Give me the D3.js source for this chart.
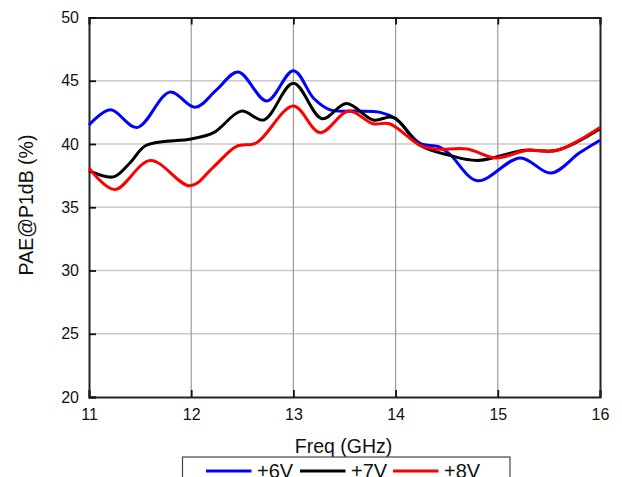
<!DOCTYPE html>
<html>
<head>
<meta charset="utf-8">
<script src="https://cdn.jsdelivr.net/npm/d3@7"></script>
<style>
  html, body { margin: 0; padding: 0; background: #fff; }
  svg { display: block; font-family: "Liberation Sans", Arial, sans-serif; }
</style>
</head>
<body>
<svg id="chart" width="622" height="477"></svg>
<script>
// PAE at P1dB versus frequency for three drain voltages
const freqTicks = [11, 12, 13, 14, 15, 16];
const paeTicks = [20, 25, 30, 35, 40, 45, 50];

const freq6V = [11.0, 11.21, 11.47, 11.79, 12.04, 12.25, 12.46, 12.74, 13.0, 13.2, 13.36, 13.6, 13.85, 14.0, 14.24, 14.42, 14.53, 14.8, 15.22, 15.52, 15.8, 16.0];
const pae6V  = [41.5, 42.7, 41.3, 44.1, 42.9, 44.3, 45.7, 43.4, 45.8, 43.6, 42.7, 42.6, 42.5, 42.0, 40.05, 39.8, 39.2, 37.1, 38.9, 37.7, 39.3, 40.3];

const freq7V = [11.0, 11.24, 11.4, 11.56, 12.0, 12.22, 12.49, 12.71, 13.0, 13.28, 13.52, 13.78, 13.98, 14.24, 14.53, 14.8, 15.26, 15.58, 16.0];
const pae7V  = [37.9, 37.4, 38.5, 39.9, 40.4, 40.9, 42.6, 41.9, 44.8, 42.0, 43.2, 41.9, 42.1, 39.9, 39.1, 38.7, 39.5, 39.5, 41.2];

const freq8V = [11.0, 11.25, 11.6, 11.99, 12.22, 12.44, 12.64, 13.0, 13.26, 13.54, 13.78, 13.94, 14.24, 14.4, 14.7, 14.98, 15.29, 15.58, 16.0];
const pae8V  = [38.1, 36.4, 38.7, 36.7, 38.2, 39.8, 40.1, 43.0, 40.9, 42.6, 41.6, 41.6, 39.9, 39.6, 39.6, 38.9, 39.5, 39.5, 41.3];

const seriesNames = ["+6V", "+7V", "+8V"];
const seriesColors = ["#0000ff", "#000000", "#ff0000"];
const seriesFreqs = [freq6V, freq7V, freq8V];
const seriesPae = [pae6V, pae7V, pae8V];

const svg = d3.select("#chart");
const plot = { left: 89, right: 600, top: 17.5, bottom: 397 };

const x = d3.scaleLinear().domain([11, 16]).range([plot.left, plot.right]);
const y = d3.scaleLinear().domain([20, 50]).range([plot.bottom, plot.top]);

// horizontal grid
svg.append("g")
  .selectAll("line")
  .data(paeTicks.filter(t => t !== 20 && t !== 50))
  .join("line")
  .attr("x1", plot.left).attr("x2", plot.right)
  .attr("y1", d => y(d)).attr("y2", d => y(d))
  .attr("stroke", "#c8c8c8").attr("stroke-width", 1.5);

// vertical grid
svg.append("g")
  .selectAll("line")
  .data(freqTicks.filter(t => t !== 11 && t !== 16))
  .join("line")
  .attr("x1", d => x(d)).attr("x2", d => x(d))
  .attr("y1", plot.top).attr("y2", plot.bottom)
  .attr("stroke", "#9a9a9a").attr("stroke-width", 1.2);

// axes with inward ticks
const tickLen = 7;
const bottomAxis = svg.append("g")
  .attr("transform", `translate(0,${plot.bottom})`)
  .call(d3.axisBottom(x).tickValues(freqTicks).tickSize(-tickLen).tickPadding(12).tickFormat(d3.format("d")));
const topAxis = svg.append("g")
  .attr("transform", `translate(0,${plot.top})`)
  .call(d3.axisTop(x).tickValues(freqTicks).tickSize(-tickLen).tickFormat(""));
const leftAxis = svg.append("g")
  .attr("transform", `translate(${plot.left},0)`)
  .call(d3.axisLeft(y).tickValues(paeTicks).tickSize(-tickLen).tickPadding(10).tickFormat(d3.format("d")));
const rightAxis = svg.append("g")
  .attr("transform", `translate(${plot.right},0)`)
  .call(d3.axisRight(y).tickValues(paeTicks).tickSize(0).tickFormat(""));

[bottomAxis, topAxis, leftAxis, rightAxis].forEach(a => {
  a.select(".domain").attr("stroke", "#222").attr("stroke-width", 2);
  a.selectAll(".tick line").attr("stroke", "#111").attr("stroke-width", 1.8);
  a.selectAll("text").attr("font-size", 16).attr("fill", "#111")
    .attr("font-family", "'Liberation Sans', Arial, sans-serif");
});

// series curves
const line = d3.line()
  .x(d => x(d[0]))
  .y(d => y(d[1]))
  .curve(d3.curveCatmullRom.alpha(0.5));

seriesNames.forEach((name, i) => {
  const pts = seriesFreqs[i].map((f, j) => [f, seriesPae[i][j]]);
  svg.append("path")
    .datum(pts)
    .attr("fill", "none")
    .attr("stroke", seriesColors[i])
    .attr("stroke-width", 3)
    .attr("stroke-linejoin", "round")
    .attr("d", line);
});

// axis titles
svg.append("text")
  .attr("x", (plot.left + plot.right) / 2 - 1)
  .attr("y", 453)
  .attr("text-anchor", "middle")
  .attr("font-size", 19.5)
  .attr("fill", "#111")
  .text("Freq (GHz)");

svg.append("text")
  .attr("transform", `translate(33,${205}) rotate(-90)`)
  .attr("text-anchor", "middle")
  .attr("font-size", 19.5)
  .attr("fill", "#111")
  .text("PAE@P1dB (%)");

// legend
const legend = svg.append("g");
legend.append("rect")
  .attr("x", 182.5).attr("y", 457)
  .attr("width", 327.5).attr("height", 40)
  .attr("fill", "#fff").attr("stroke", "#444").attr("stroke-width", 1.2);

const legendX = [206, 300, 393];
seriesNames.forEach((name, i) => {
  legend.append("line")
    .attr("x1", legendX[i]).attr("x2", legendX[i] + 45.5)
    .attr("y1", 471).attr("y2", 471)
    .attr("stroke", seriesColors[i]).attr("stroke-width", 3);
  legend.append("text")
    .attr("x", legendX[i] + 51)
    .attr("y", 478)
    .attr("font-size", 20)
    .attr("fill", "#111")
    .text(name);
});
</script>
</body>
</html>
